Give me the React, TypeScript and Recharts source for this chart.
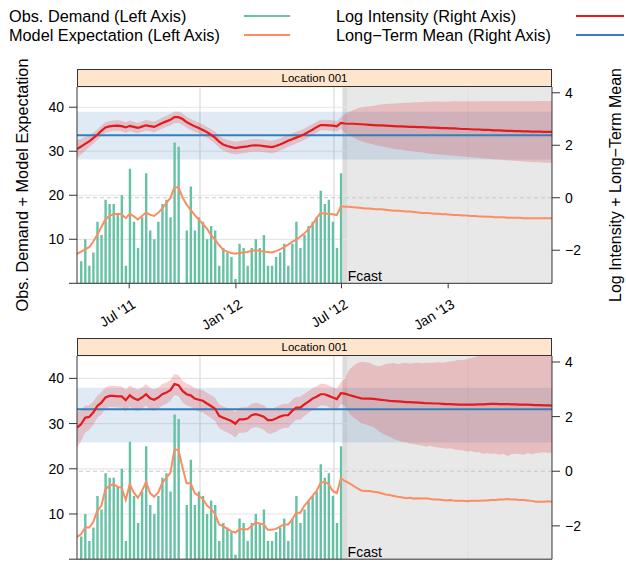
import React from "react";
import {
  ComposedChart,
  Bar,
  Line,
  Area,
  XAxis,
  YAxis,
  CartesianGrid,
  ReferenceArea,
  ReferenceLine,
} from "recharts";

const W = 626;
const H = 564;
const FONT = '"Liberation Sans", Arial, Helvetica, sans-serif';
const DAY = 86400000;

// weekly calendar: week 0 = 2 Apr 2011, last forecast week = 29 Jun 2013
const week0 = Date.UTC(2011, 3, 2);
const xEnd = Date.UTC(2013, 5, 29);
const fcastStart = Date.UTC(2012, 6, 3);
const fcastEdge = Date.UTC(2012, 6, 11);

const tickDates = [Date.UTC(2011, 6, 1), Date.UTC(2012, 0, 1), Date.UTC(2012, 6, 1), Date.UTC(2013, 0, 1)];
const tickLabels = ["Jul '11", "Jan '12", "Jul '12", "Jan '13"];
const gridDates = [Date.UTC(2011, 9, 31), Date.UTC(2012, 5, 18), Date.UTC(2013, 1, 4)];

// observed weekly demand, 9 Apr 2011 .. 30 Jun 2012
const demand = [
  5, 10, 4, 7, 14, 11, 19, 18, 18, 16,
  20, 4, 26, 14, 8, 15, 25, 12, 10, 14,
  18, 19, 15, 32, 31, 0, 12, 22, 12, 15,
  14, 10, 13, 12, 4, 8, 7, 6, 1, 9,
  8, 4, 8, 10, 8, 11, 4, 4, 6, 7,
  9, 4, 9, 14, 8, 11, 13, 14, 15, 21,
  18, 19, 14, 8, 25,
];

// ---- panel 1 ----
const topExpect = [
  6.7, 7.2, 7.7, 8.2, 9.5, 11.0, 12.8, 14.5, 15.3, 15.7,
  15.8, 15.7, 14.8, 15.8, 15.2, 14.5, 15.3, 16.1, 15.6, 15.3,
  16.0, 17.0, 18.2, 19.4, 21.8, 21.8, 19.5, 17.9, 16.7, 15.5,
  14.5, 13.5, 12.4, 11.0, 9.9, 8.7, 7.6, 7.2, 6.9, 6.7,
  6.9, 7.0, 7.1, 7.4, 7.5, 7.4, 7.2, 7.1, 7.0, 7.3,
  7.7, 8.2, 8.8, 9.4, 9.9, 10.6, 11.3, 12.3, 13.3, 14.8,
  16.0, 15.8, 15.8, 15.7, 15.5, 17.5,
  17.4, 17.4, 17.3, 17.2, 17.1, 17.0, 17.0, 16.9, 16.8, 16.8,
  16.7, 16.6, 16.5, 16.5, 16.4, 16.3, 16.3, 16.2, 16.1, 16.0,
  16.0, 15.9, 15.8, 15.8, 15.7, 15.7, 15.6, 15.5, 15.5, 15.4,
  15.4, 15.3, 15.3, 15.2, 15.2, 15.1, 15.1, 15.0, 15.0, 15.0,
  14.9, 14.9, 14.9, 14.9, 14.8, 14.8, 14.8, 14.8, 14.8, 14.8,
  14.8, 14.8,
];
const topLog = [
  1.86, 1.95, 2.05, 2.15, 2.27, 2.4, 2.55, 2.68, 2.72, 2.74,
  2.75, 2.73, 2.68, 2.74, 2.7, 2.66, 2.71, 2.76, 2.73, 2.7,
  2.77, 2.85, 2.91, 2.97, 3.07, 3.07, 3.0, 2.88, 2.8, 2.72,
  2.66, 2.58, 2.5, 2.4, 2.29, 2.14, 2.03, 1.97, 1.93, 1.89,
  1.92, 1.94, 1.96, 1.99, 2.0, 1.99, 1.97, 1.95, 1.93, 1.97,
  2.03, 2.1, 2.17, 2.23, 2.29, 2.35, 2.42, 2.51, 2.59, 2.69,
  2.77, 2.77, 2.76, 2.75, 2.72, 2.85,
  2.83, 2.82, 2.82, 2.81, 2.8, 2.79, 2.78, 2.77, 2.76, 2.76,
  2.75, 2.74, 2.73, 2.72, 2.72, 2.71, 2.7, 2.7, 2.69, 2.69,
  2.68, 2.67, 2.67, 2.66, 2.65, 2.65, 2.64, 2.64, 2.63, 2.62,
  2.62, 2.61, 2.6, 2.6, 2.59, 2.59, 2.58, 2.57, 2.57, 2.56,
  2.55, 2.55, 2.54, 2.54, 2.53, 2.53, 2.52, 2.52, 2.52, 2.51,
  2.51, 2.51,
];
const topSpread = [
  0.34, 0.3, 0.26, 0.23, 0.21, 0.2, 0.2, 0.2, 0.2, 0.2,
  0.2, 0.2, 0.2, 0.2, 0.2, 0.2, 0.2, 0.2, 0.2, 0.2,
  0.2, 0.21, 0.21, 0.22, 0.22, 0.22, 0.22, 0.21, 0.21, 0.21,
  0.21, 0.21, 0.21, 0.22, 0.22, 0.23, 0.23, 0.24, 0.24, 0.24,
  0.24, 0.24, 0.24, 0.24, 0.24, 0.24, 0.24, 0.24, 0.24, 0.24,
  0.23, 0.23, 0.23, 0.22, 0.22, 0.22, 0.21, 0.21, 0.21, 0.21,
  0.2, 0.2, 0.2, 0.2, 0.2, 0.22,
  0.35, 0.45, 0.52, 0.59, 0.65, 0.68, 0.71, 0.74, 0.77, 0.8,
  0.82, 0.84, 0.86, 0.88, 0.89, 0.91, 0.92, 0.94, 0.95, 0.96,
  0.98, 0.99, 1.0, 1.01, 1.01, 1.02, 1.03, 1.04, 1.05, 1.05,
  1.06, 1.07, 1.07, 1.08, 1.09, 1.09, 1.1, 1.11, 1.11, 1.12,
  1.13, 1.13, 1.14, 1.14, 1.15, 1.16, 1.16, 1.17, 1.17, 1.18,
  1.18, 1.19,
];
const topMean = 2.38;
const topMeanBand = [1.46, 3.28];

// ---- panel 2 ----
const botExpect = [
  4.9, 5.5, 7.0, 7.0, 8.2, 10.7, 11.8, 15.5, 16.2, 16.6,
  16.0, 15.8, 13.1, 16.6, 14.7, 13.6, 15.1, 17.1, 14.6, 13.8,
  14.7, 16.9, 18.0, 19.1, 24.2, 24.2, 20.2, 16.8, 16.8, 14.6,
  14.0, 13.3, 11.9, 11.1, 10.0, 7.7, 7.3, 6.7, 6.2, 5.9,
  6.6, 6.6, 6.6, 7.3, 8.1, 7.9, 7.7, 6.5, 6.5, 6.7,
  7.2, 7.7, 7.7, 8.8, 10.3, 10.3, 11.8, 12.9, 14.0, 15.1,
  16.9, 17.1, 16.6, 15.1, 14.6, 17.9,
  17.3, 16.8, 16.3, 15.7, 15.2, 15.1, 15.1, 14.9, 14.8, 14.6,
  14.3, 14.2, 14.0, 13.8, 13.7, 13.5, 13.6, 13.4, 13.5, 13.4,
  13.5, 13.3, 13.2, 13.2, 13.1, 13.0, 13.1, 12.9, 12.9, 12.9,
  12.8, 12.9, 12.9, 12.9, 13.0, 13.0, 13.1, 13.1, 13.2, 13.2,
  13.3, 13.2, 13.2, 13.1, 13.1, 13.0, 12.9, 12.7, 12.7, 12.7,
  12.8, 12.7,
];
const botLog = [
  1.6, 1.72, 1.96, 1.99, 2.15, 2.39, 2.51, 2.7, 2.76, 2.76,
  2.74, 2.74, 2.6, 2.78, 2.67, 2.61, 2.7, 2.82, 2.67, 2.62,
  2.7, 2.82, 2.88, 2.97, 3.19, 3.15, 2.94, 2.82, 2.78, 2.66,
  2.62, 2.58, 2.48, 2.39, 2.29, 2.03, 1.96, 1.9, 1.84, 1.74,
  1.9, 1.9, 1.93, 2.05, 2.09, 2.05, 2.0, 1.87, 1.87, 1.93,
  2.0, 2.05, 2.05, 2.21, 2.33, 2.33, 2.45, 2.55, 2.66, 2.73,
  2.82, 2.82, 2.76, 2.7, 2.64, 2.86,
  2.84, 2.79, 2.75, 2.71, 2.67, 2.66, 2.66, 2.65, 2.63, 2.61,
  2.6, 2.58, 2.57, 2.56, 2.55, 2.53, 2.53, 2.52, 2.51, 2.5,
  2.49, 2.49, 2.48, 2.48, 2.47, 2.46, 2.46, 2.45, 2.44, 2.44,
  2.44, 2.44, 2.44, 2.45, 2.45, 2.46, 2.47, 2.47, 2.46, 2.46,
  2.46, 2.45, 2.45, 2.44, 2.44, 2.44, 2.43, 2.42, 2.42, 2.41,
  2.41, 2.4,
];
const botUp = [
  0.57, 0.5, 0.45, 0.42, 0.4, 0.38, 0.38, 0.37, 0.37, 0.37,
  0.37, 0.37, 0.38, 0.37, 0.38, 0.38, 0.37, 0.37, 0.38, 0.38,
  0.37, 0.37, 0.37, 0.37, 0.37, 0.37, 0.37, 0.38, 0.38, 0.38,
  0.38, 0.39, 0.39, 0.4, 0.4, 0.41, 0.42, 0.42, 0.43, 0.43,
  0.43, 0.43, 0.42, 0.42, 0.42, 0.42, 0.42, 0.43, 0.43, 0.42,
  0.42, 0.42, 0.41, 0.41, 0.4, 0.4, 0.39, 0.39, 0.38, 0.38,
  0.38, 0.38, 0.38, 0.38, 0.38, 0.4,
  0.56, 0.91, 1.1, 1.24, 1.34, 1.34, 1.31, 1.25, 1.21, 1.25,
  1.33, 1.37, 1.39, 1.37, 1.4, 1.44, 1.41, 1.44, 1.46, 1.45,
  1.48, 1.47, 1.5, 1.51, 1.5, 1.54, 1.56, 1.6, 1.64, 1.62,
  1.66, 1.71, 1.74, 1.77, 1.82, 1.84, 1.85, 1.88, 1.87, 1.92,
  1.94, 1.97, 1.95, 2.01, 2.03, 2.01, 2.07, 2.1, 2.08, 2.14,
  2.14, 2.18,
];
const botDown = [
  0.74, 0.62, 0.54, 0.48, 0.45, 0.43, 0.42, 0.42, 0.41, 0.41,
  0.41, 0.41, 0.42, 0.41, 0.42, 0.42, 0.41, 0.41, 0.42, 0.42,
  0.41, 0.41, 0.41, 0.4, 0.4, 0.4, 0.41, 0.41, 0.42, 0.42,
  0.42, 0.43, 0.43, 0.44, 0.45, 0.46, 0.47, 0.48, 0.49, 0.5,
  0.49, 0.49, 0.48, 0.47, 0.47, 0.47, 0.48, 0.49, 0.49, 0.48,
  0.47, 0.47, 0.46, 0.45, 0.44, 0.44, 0.43, 0.42, 0.42, 0.41,
  0.41, 0.41, 0.41, 0.42, 0.42, 0.4,
  0.44, 0.66, 0.77, 0.83, 0.91, 0.94, 0.99, 1.03, 1.13, 1.21,
  1.27, 1.32, 1.39, 1.43, 1.46, 1.48, 1.51, 1.53, 1.55, 1.56,
  1.59, 1.56, 1.59, 1.61, 1.62, 1.64, 1.62, 1.65, 1.66, 1.68,
  1.72, 1.7, 1.74, 1.75, 1.81, 1.8, 1.84, 1.82, 1.86, 1.82,
  1.9, 1.83, 1.81, 1.81, 1.84, 1.78, 1.81, 1.76, 1.74, 1.71,
  1.74, 1.72,
];
const botMean = 2.27;
const botMeanBand = [1.05, 3.06];

const GREEN = "#66c2a5";
const ORANGE = "#fc8d62";
const RED = "#e41a1c";
const BLUE = "#377eb8";
const AXIS = "#333";

function buildRows(expect: number[], logInt: number[], up: number[], down: number[]) {
  return expect.map((e, j) => ({
    t: week0 + j * 7 * DAY,
    demand: j >= 1 && j <= demand.length ? demand[j - 1] : null,
    expect: e,
    logInt: logInt[j],
    band: [logInt[j] - down[j], logInt[j] + up[j]],
  }));
}

const fmtRight = (v: number) => (v < 0 ? "\u2212" + Math.abs(v) : String(v));

function DateTick(props: any) {
  const { x, y, payload } = props;
  const i = tickDates.indexOf(payload.value);
  return (
    <g transform={`translate(${x + 2},${y + 8})`}>
      <text textAnchor="end" transform="rotate(-32)" dy="0.72em" fontSize={14} fill="#000" fontFamily={FONT}>
        {tickLabels[i]}
      </text>
    </g>
  );
}

interface PanelProps {
  rows: ReturnType<typeof buildRows>;
  plotTop: number;
  plotH: number;
  leftMax: number;
  rightMin: number;
  rightMax: number;
  mean: number;
  meanBand: number[];
  showDates: boolean;
}

function Panel({ rows, plotTop, plotH, leftMax, rightMin, rightMax, mean, meanBand, showDates }: PanelProps) {
  const stripTop = plotTop - 18;
  const topTick = (p: any) => (
    <line x1={p.x} x2={p.x} y1={stripTop - 7} y2={stripTop} stroke={AXIS} strokeWidth={1} />
  );
  return (
    <div style={{ position: "absolute", left: 0, top: 0 }}>
      <ComposedChart
        width={W}
        height={plotTop + plotH + 50}
        data={rows}
        margin={{ top: plotTop, right: 0, bottom: 0, left: 0 }}
      >
        <ReferenceArea
          yAxisId="l"
          x1={fcastStart}
          x2={xEnd}
          fill="#e8e8e8"
          fillOpacity={1}
          stroke="none"
          zIndex={-300}
          label={{ value: "Fcast", position: "insideBottomLeft", offset: 2, dx: 3, fontSize: 14, fill: "#000", fontFamily: FONT }}
        />
        <ReferenceArea yAxisId="l" x1={fcastStart} x2={fcastEdge} fill="#dcdcdc" fillOpacity={1} stroke="none" zIndex={-290} />
        <CartesianGrid yAxisId="l" vertical={false} stroke="#e6e6e6" strokeWidth={1.2} />
        {gridDates.map((d) => (
          <ReferenceLine key={d} yAxisId="l" x={d} stroke="#e2e2e2" strokeWidth={1.5} zIndex={-90} />
        ))}
        <ReferenceArea
          yAxisId="r"
          y1={meanBand[0]}
          y2={meanBand[1]}
          fill={BLUE}
          fillOpacity={0.16}
          stroke="none"
          zIndex={-80}
        />
        <ReferenceLine yAxisId="r" y={0} stroke="#c8c8c8" strokeDasharray="4 3" zIndex={-70} />
        <Area
          yAxisId="r"
          dataKey="band"
          type="linear"
          fill={RED}
          fillOpacity={0.2}
          stroke="none"
          isAnimationActive={false}
        />
        <Bar yAxisId="l" dataKey="demand" fill={GREEN} barSize={2.4} isAnimationActive={false} />
        <Line yAxisId="l" dataKey="expect" stroke={ORANGE} strokeWidth={2} dot={false} type="linear" isAnimationActive={false} />
        <ReferenceLine yAxisId="r" y={mean} stroke={BLUE} strokeWidth={2} zIndex={350} />
        <Line yAxisId="r" dataKey="logInt" stroke={RED} strokeWidth={2.2} dot={false} type="linear" isAnimationActive={false} />
        <XAxis
          dataKey="t"
          type="number"
          scale="linear"
          domain={[week0, xEnd]}
          allowDataOverflow
          ticks={tickDates}
          tick={showDates ? <DateTick /> : false}
          tickSize={5}
          height={50}
          stroke={AXIS}
          interval={0}
        />
        <XAxis
          xAxisId="top"
          orientation="top"
          dataKey="t"
          type="number"
          domain={[week0, xEnd]}
          allowDataOverflow
          ticks={tickDates}
          tick={topTick}
          tickLine={false}
          axisLine={false}
          height={0}
          interval={0}
        />
        <YAxis
          yAxisId="l"
          domain={[0, leftMax]}
          allowDataOverflow
          ticks={[0, 10, 20, 30, 40]}
          tickFormatter={(v: number) => (v === 0 ? "" : String(v))}
          width={77}
          tickSize={8}
          tickMargin={5}
          stroke={AXIS}
          tick={{ fontSize: 14, fill: "#000", fontFamily: FONT }}
          interval={0}
        />
        <YAxis
          yAxisId="r"
          orientation="right"
          domain={[rightMin, rightMax]}
          allowDataOverflow
          ticks={[-2, 0, 2, 4]}
          tickFormatter={fmtRight}
          width={74}
          tickSize={8}
          tickMargin={5}
          stroke={AXIS}
          tick={{ fontSize: 14, fill: "#000", fontFamily: FONT, textAnchor: "start" }}
          interval={0}
        />
      </ComposedChart>
      <div
        style={{
          position: "absolute",
          left: 77,
          top: stripTop,
          width: 475,
          height: 18,
          boxSizing: "border-box",
          border: `1px solid ${AXIS}`,
          background: "#ffe5cc",
          fontFamily: FONT,
          fontSize: 11.5,
          lineHeight: "16px",
          textAlign: "center",
          color: "#000",
        }}
      >
        Location 001
      </div>
    </div>
  );
}

const topRows = buildRows(topExpect, topLog, topSpread, topSpread);
const botRows = buildRows(botExpect, botLog, botUp, botDown);

export default function App() {
  return (
    <div style={{ position: "absolute", left: 0, top: 0, width: W, height: H, overflow: "hidden", background: "#fff" }}>
      <Panel rows={topRows} plotTop={87} plotH={196.3} leftMax={44.6} rightMin={-3.26} rightMax={4.22} mean={topMean} meanBand={topMeanBand} showDates={true} />
      <Panel rows={botRows} plotTop={356} plotH={203.2} leftMax={44.95} rightMin={-3.22} rightMax={4.22} mean={botMean} meanBand={botMeanBand} showDates={false} />
      <svg width={W} height={H} style={{ position: "absolute", left: 0, top: 0, pointerEvents: "none" }} fontFamily={FONT}>
        <text x={9} y={22} fontSize={16.3}>Obs. Demand (Left Axis)</text>
        <text x={9} y={41} fontSize={16.3}>Model Expectation (Left Axis)</text>
        <text x={336} y={22} fontSize={16.3}>Log Intensity (Right Axis)</text>
        <text x={336} y={41} fontSize={16.3}>Long{"\u2212"}Term Mean (Right Axis)</text>
        <line x1={244} x2={290} y1={16} y2={16} stroke={GREEN} strokeWidth={2} />
        <line x1={244} x2={290} y1={35} y2={35} stroke={ORANGE} strokeWidth={2} />
        <line x1={576} x2={624} y1={16} y2={16} stroke={RED} strokeWidth={2} />
        <line x1={576} x2={624} y1={35} y2={35} stroke={BLUE} strokeWidth={2} />
        <text transform="translate(28,185) rotate(-90)" textAnchor="middle" fontSize={16.3}>
          Obs. Demand + Model Expectation
        </text>
        <text transform="translate(621,185) rotate(-90)" textAnchor="middle" fontSize={16}>
          Log Intensity + Long{"\u2212"}Term Mean
        </text>
      </svg>
    </div>
  );
}
